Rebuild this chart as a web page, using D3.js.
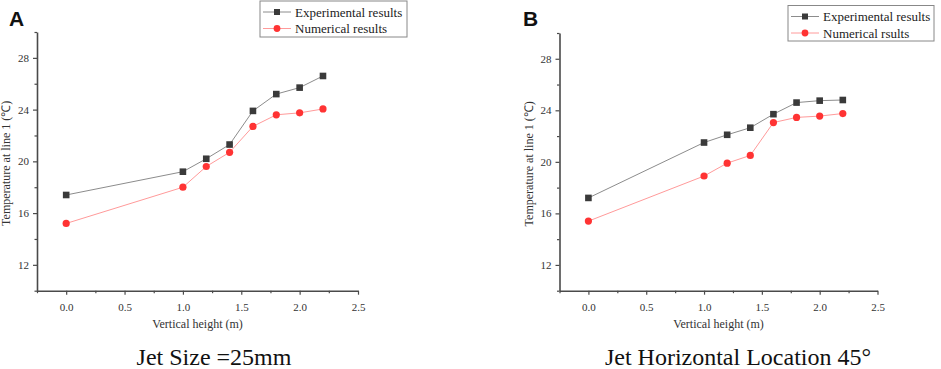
<!DOCTYPE html>
<html>
<head>
<meta charset="utf-8">
<script src="https://cdn.jsdelivr.net/npm/d3@7"></script>
<style>
  html, body { margin: 0; padding: 0; background: #fff; }
  svg { display: block; }
</style>
</head>
<body>
<svg id="chart" width="941" height="369" font-family="Liberation Serif, Times New Roman, serif"></svg>
<script>
const heights = [0.0, 1.0, 1.2, 1.4, 1.6, 1.8, 2.0, 2.2];
const expA = [17.4, 19.2, 20.2, 21.3, 23.9, 25.2, 25.7, 26.6];
const numA = [15.2, 18.0, 19.6, 20.7, 22.7, 23.6, 23.75, 24.05];
const expB = [17.2, 21.5, 22.1, 22.65, 23.7, 24.6, 24.75, 24.8];
const numB = [15.4, 18.9, 19.9, 20.5, 23.05, 23.45, 23.55, 23.75];
const xTicks = [0.0, 0.5, 1.0, 1.5, 2.0, 2.5];
const xMinorTicks = [-0.25, 0.25, 0.75, 1.25, 1.75, 2.25];
const yTicks = [12, 16, 20, 24, 28];
const yMinorTicks = [10, 14, 18, 22, 26, 30];

const SERIF = "Liberation Serif, Times New Roman, serif";
const SANS = "Liberation Sans, Arial, sans-serif";

const panels = [
  { letter: "A", exp: expA, num: numA, legendExp: "Experimental results", legendNum: "Numerical results",
    title: "Jet Size =25mm",
    x0: 37, x1: 358, yTop: 32, yBot: 290.7, letterX: 9, titleX: 214,
    legend: { x: 260, y: 1, w: 147, h: 36 } },
  { letter: "B", exp: expB, num: numB, legendExp: "Experimental results", legendNum: "Numerical rsults",
    title: "Jet Horizontal Location 45\u00B0",
    x0: 559.5, x1: 877.5, yTop: 33, yBot: 290.7, letterX: 523, titleX: 738,
    legend: { x: 788, y: 5.5, w: 146, h: 35.5 } }
];

const svg = d3.select("#chart");
const axisColor = "#4a4a4a";
const expColor = "#3a3a3a";
const numColor = "#ff3333";

panels.forEach(p => {
  const g = svg.append("g").attr("font-family", SERIF);
  const x = d3.scaleLinear().domain([-0.25, 2.5]).range([p.x0, p.x1]);
  const y = d3.scaleLinear().domain([10, 30]).range([p.yBot, p.yTop]);

  // Panel letter
  g.append("text").attr("x", p.letterX).attr("y", 26)
    .attr("font-family", SANS)
    .attr("font-weight", "bold").attr("font-size", 21).attr("fill", "#111")
    .text(p.letter);

  // minor ticks
  const xMinor = g.append("g").attr("transform", `translate(0,${p.yBot})`)
    .call(d3.axisBottom(x).tickValues(xMinorTicks).tickSize(2.5).tickFormat(""));
  const yMinor = g.append("g").attr("transform", `translate(${p.x0},0)`)
    .call(d3.axisLeft(y).tickValues(yMinorTicks).tickSize(2.5).tickFormat(""));
  [xMinor, yMinor].forEach(a => { a.select(".domain").remove(); a.selectAll("line").attr("stroke", axisColor).attr("stroke-width", 1.2); });

  // major axes
  const xAxis = g.append("g").attr("transform", `translate(0,${p.yBot})`)
    .call(d3.axisBottom(x).tickValues(xTicks).tickSize(4).tickSizeOuter(0).tickPadding(9).tickFormat(d3.format(".1f")));
  const yAxis = g.append("g").attr("transform", `translate(${p.x0},0)`)
    .call(d3.axisLeft(y).tickValues(yTicks).tickSize(4).tickSizeOuter(0).tickPadding(4).tickFormat(d3.format("d")));
  [xAxis, yAxis].forEach(a => {
    a.attr("font-family", SERIF).attr("font-size", 11);
    a.select(".domain").attr("stroke", axisColor).attr("stroke-width", 1.6);
    a.selectAll("line").attr("stroke", axisColor).attr("stroke-width", 1.2);
    a.selectAll("text").attr("fill", "#333").attr("font-family", SERIF).attr("font-size", 11);
  });

  // axis titles
  g.append("text").attr("x", (x(-0.25) + x(2.5)) / 2).attr("y", 328)
    .attr("text-anchor", "middle").attr("font-size", 12).attr("font-family", SERIF).attr("fill", "#333")
    .text("Vertical height (m)");
  g.append("text")
    .attr("transform", `translate(${p.x0 - 27},${(p.yTop + p.yBot) / 2 + 2}) rotate(-90)`)
    .attr("text-anchor", "middle").attr("font-size", 12).attr("font-family", SERIF).attr("fill", "#333")
    .text("Temperature at line 1 (\u2103)");

  // lines
  const line = d3.line().x((d, i) => x(heights[i])).y(d => y(d));
  g.append("path").datum(p.exp).attr("d", line).attr("fill", "none").attr("stroke", "#8c8c8c").attr("stroke-width", 1);
  g.append("path").datum(p.num).attr("d", line).attr("fill", "none").attr("stroke", "#ff9a9a").attr("stroke-width", 1);

  // markers
  g.selectAll(".sq").data(p.exp).enter().append("rect")
    .attr("x", (d, i) => x(heights[i]) - 3.3).attr("y", d => y(d) - 3.3)
    .attr("width", 6.6).attr("height", 6.6).attr("fill", expColor);
  g.selectAll(".ci").data(p.num).enter().append("circle")
    .attr("cx", (d, i) => x(heights[i])).attr("cy", d => y(d)).attr("r", 3.6).attr("fill", numColor);

  // legend
  const L = p.legend;
  const lg = g.append("g");
  lg.append("rect").attr("x", L.x).attr("y", L.y).attr("width", L.w).attr("height", L.h)
    .attr("fill", "#fff").attr("stroke", "#888").attr("stroke-width", 1);
  const rows = [
    { label: p.legendExp, type: "sq", lineColor: "#8c8c8c" },
    { label: p.legendNum, type: "ci", lineColor: "#ff9a9a" }
  ];
  rows.forEach((r, i) => {
    const cy = L.y + 11 + i * 16.5;
    const mx = L.x + 17;
    lg.append("line").attr("x1", L.x + 3).attr("x2", L.x + 31).attr("y1", cy).attr("y2", cy)
      .attr("stroke", r.lineColor).attr("stroke-width", 1);
    if (r.type === "sq") {
      lg.append("rect").attr("x", mx - 3).attr("y", cy - 3).attr("width", 6).attr("height", 6).attr("fill", expColor);
    } else {
      lg.append("circle").attr("cx", mx).attr("cy", cy).attr("r", 3.4).attr("fill", numColor);
    }
    lg.append("text").attr("x", L.x + 35).attr("y", cy + 4.5).attr("font-family", SERIF)
      .attr("font-size", 13).attr("fill", "#222").text(r.label);
  });

  // panel title
  g.append("text").attr("x", p.titleX).attr("y", 365).attr("text-anchor", "middle").attr("font-family", SERIF)
    .attr("font-size", 24).attr("fill", "#111").text(p.title);
});
</script>
</body>
</html>
